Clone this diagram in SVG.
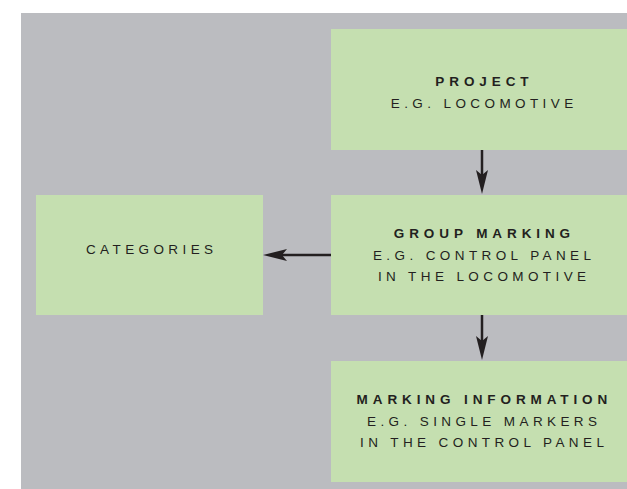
<svg xmlns="http://www.w3.org/2000/svg" width="627" height="489" viewBox="0 0 627 489">
  <style>
    .box { fill: #c5dfb0; }
    .t { font-family: "Liberation Sans", Arial, sans-serif; font-size: 13.5px; fill: #231f20; text-anchor: middle; letter-spacing: 4.4px; }
    .b { font-weight: bold; letter-spacing: 4.9px; }
    .conn { stroke: #231f20; stroke-width: 2.5; fill: none; }
  </style>
  <defs>
    <marker id="ah" viewBox="0 0 24 12" refX="6" refY="6" markerWidth="24" markerHeight="12" markerUnits="userSpaceOnUse" orient="auto">
      <path d="M0,0 L24,6 L0,12 L5,6 Z" fill="#231f20"/>
    </marker>
  </defs>
  <rect x="0" y="0" width="627" height="489" fill="#ffffff"/>
  <rect id="background" x="21" y="13" width="606" height="476" fill="#bbbcc0"/>

  <g id="project">
    <rect class="box" x="331" y="29" width="296" height="121"/>
    <text class="t b" x="484.4" y="86">PROJECT</text>
    <text class="t" x="484.2" y="107.5">E.G. LOCOMOTIVE</text>
  </g>

  <g id="group-marking">
    <rect class="box" x="331" y="195" width="296" height="120"/>
    <text class="t b" x="484.4" y="238">GROUP MARKING</text>
    <text class="t" x="484.2" y="259.5">E.G. CONTROL PANEL</text>
    <text class="t" x="484.2" y="281">IN THE LOCOMOTIVE</text>
  </g>

  <g id="categories">
    <rect class="box" x="36" y="195" width="227" height="120"/>
    <text class="t" x="151.7" y="253.5">CATEGORIES</text>
  </g>

  <g id="marking-information">
    <rect class="box" x="331" y="361" width="296" height="121"/>
    <text class="t b" x="484.4" y="404">MARKING INFORMATION</text>
    <text class="t" x="484.2" y="425.5">E.G. SINGLE MARKERS</text>
    <text class="t" x="484.2" y="446.5">IN THE CONTROL PANEL</text>
  </g>

  <g id="connectors">
    <line class="conn" x1="482" y1="150" x2="482" y2="176" marker-end="url(#ah)"/>
    <line class="conn" x1="331" y1="255" x2="281" y2="255" marker-end="url(#ah)"/>
    <line class="conn" x1="482" y1="315" x2="482" y2="342" marker-end="url(#ah)"/>
  </g>
</svg>
